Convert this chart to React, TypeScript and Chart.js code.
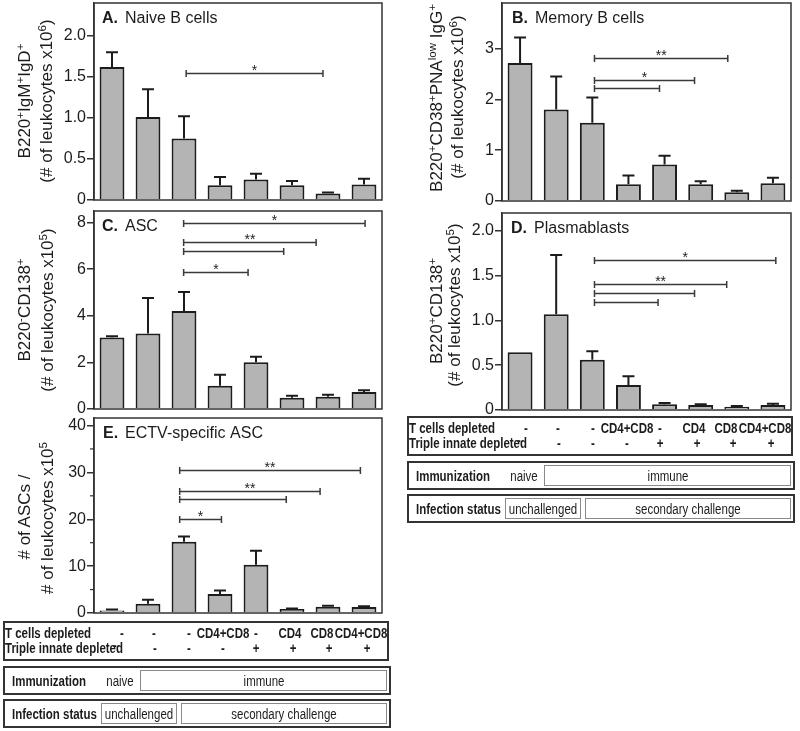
import React, { useEffect, useRef } from 'react';
import { Chart, registerables } from 'chart.js';

Chart.register(...registerables);

// ---------- data ----------
const groups = [
  'naive',
  'immune',
  'immune challenged',
  'CD4+CD8 depleted',
  'triple innate depleted',
  'CD4 + triple',
  'CD8 + triple',
  'CD4+CD8 + triple',
];

const naiveMean = [1.62, 1.01, 0.75, 0.18, 0.25, 0.18, 0.08, 0.19];
const naiveErr = [0.18, 0.34, 0.27, 0.1, 0.07, 0.05, 0.01, 0.07];
const naiveTicks = [0, 0.5, 1, 1.5, 2];

const memoryMean = [2.72, 1.8, 1.54, 0.33, 0.72, 0.33, 0.17, 0.35];
const memoryErr = [0.5, 0.65, 0.5, 0.17, 0.17, 0.06, 0.03, 0.11];
const memoryTicks = [0, 1, 2, 3];

const ascMean = [3.07, 3.24, 4.21, 1.0, 2.01, 0.48, 0.53, 0.73];
const ascErr = [0.05, 1.53, 0.81, 0.47, 0.23, 0.09, 0.08, 0.07];
const ascTicks = [0, 2, 4, 6, 8];

const plasmaMean = [0.646, 1.07, 0.56, 0.278, 0.063, 0.056, 0.037, 0.056];
const plasmaErr = [0, 0.66, 0.097, 0.1, 0.015, 0.007, 0.008, 0.014];
const plasmaTicks = [0, 0.5, 1, 1.5, 2];

const ectvMean = [0.55, 2.0, 15.2, 4.04, 10.3, 0.85, 1.34, 1.28];
const ectvErr = [0.22, 0.83, 1.1, 0.76, 3.0, 0.13, 0.21, 0.17];
const ectvTicks = [0, 10, 20, 30, 40];
const ectvMinorTicks = [5, 15, 25, 35];

type Bracket = { from: number; to: number; y: number; label: string };

const naiveBrackets: Bracket[] = [{ from: 2.06, to: 5.86, y: 1.55, label: '*' }];
const memoryBrackets: Bracket[] = [
  { from: 2.06, to: 5.75, y: 2.82, label: '**' },
  { from: 2.06, to: 4.83, y: 2.39, label: '*' },
  { from: 2.06, to: 3.86, y: 2.22, label: '' },
];
const ascBrackets: Bracket[] = [
  { from: 1.99, to: 7.03, y: 8.0, label: '*' },
  { from: 1.99, to: 5.67, y: 7.17, label: '**' },
  { from: 1.99, to: 4.77, y: 6.77, label: '' },
  { from: 1.99, to: 3.78, y: 5.86, label: '*' },
];
const plasmaBrackets: Bracket[] = [
  { from: 2.06, to: 7.08, y: 1.67, label: '*' },
  { from: 2.06, to: 5.72, y: 1.41, label: '**' },
  { from: 2.06, to: 4.83, y: 1.31, label: '' },
  { from: 2.06, to: 3.82, y: 1.21, label: '' },
];
const ectvBrackets: Bracket[] = [
  { from: 1.88, to: 6.9, y: 30.5, label: '**' },
  { from: 1.88, to: 5.78, y: 26.1, label: '**' },
  { from: 1.88, to: 4.84, y: 24.3, label: '' },
  { from: 1.88, to: 3.04, y: 20.0, label: '*' },
];

const tCellsDepleted = ['-', '-', '-', 'CD4+CD8', '-', 'CD4', 'CD8', 'CD4+CD8'];
const tripleInnateDepleted = ['-', '-', '-', '-', '+', '+', '+', '+'];

// ---------- styles ----------
const FONT = '"Liberation Sans", Arial, Helvetica, sans-serif';
const INK = '#1c1c1c';
const LINE = '#333333';
const BAR = '#b4b4b4';
const NARROW_SCALE = 0.82;

type Area = { l: number; t: number; r: number; b: number };

interface PanelProps {
  left: number;
  top: number;
  width: number;
  height: number;
  area: Area;
  means: number[];
  errs: number[];
  max: number;
  ticks: number[];
  minorTicks?: number[];
  brackets: Bracket[];
  letter: string;
  title: string;
  titleDx: number;
  decimals: number;
}

function Panel(p: PanelProps) {
  const ref = useRef<HTMLCanvasElement | null>(null);
  useEffect(() => {
    if (!ref.current) return;
    const decor = {
      id: 'decor' + p.letter,
      afterDatasetsDraw(chart: any) {
        const { ctx, chartArea: a } = chart;
        const x = chart.scales.x;
        const y = chart.scales.y;
        ctx.save();
        // frame
        ctx.strokeStyle = LINE;
        ctx.lineWidth = 1.5;
        ctx.strokeRect(a.left, a.top, a.right - a.left, a.bottom - a.top);
        // minor ticks
        if (p.minorTicks) {
          ctx.lineWidth = 1.2;
          p.minorTicks.forEach((v) => {
            const py = y.getPixelForValue(v);
            ctx.beginPath();
            ctx.moveTo(a.left - 4, py);
            ctx.lineTo(a.left, py);
            ctx.stroke();
          });
        }
        // error bars
        const meta = chart.getDatasetMeta(0);
        ctx.strokeStyle = INK;
        ctx.lineWidth = 2;
        meta.data.forEach((el: any, i: number) => {
          const e = p.errs[i];
          if (!e) return;
          const top = y.getPixelForValue(p.means[i] + e);
          ctx.beginPath();
          ctx.moveTo(el.x, el.y);
          ctx.lineTo(el.x, top);
          ctx.moveTo(el.x - 6, top);
          ctx.lineTo(el.x + 6, top);
          ctx.stroke();
        });
        // brackets
        ctx.strokeStyle = '#3a3a3a';
        ctx.lineWidth = 1.5;
        ctx.fillStyle = INK;
        ctx.font = `14px ${FONT}`;
        ctx.textAlign = 'center';
        ctx.textBaseline = 'alphabetic';
        p.brackets.forEach((b) => {
          const x1 = x.getPixelForValue(b.from);
          const x2 = x.getPixelForValue(b.to);
          const py = Math.round(y.getPixelForValue(b.y)) + 0.5;
          ctx.beginPath();
          ctx.moveTo(x1, py);
          ctx.lineTo(x2, py);
          ctx.moveTo(x1, py - 3.5);
          ctx.lineTo(x1, py + 3.5);
          ctx.moveTo(x2, py - 3.5);
          ctx.lineTo(x2, py + 3.5);
          ctx.stroke();
          if (b.label) ctx.fillText(b.label, (x1 + x2) / 2, py + 1);
        });
        // title
        ctx.textAlign = 'left';
        ctx.textBaseline = 'middle';
        ctx.font = `bold 16px ${FONT}`;
        const tx = a.left + p.titleDx;
        const ty = a.top + 15.5;
        ctx.fillText(p.letter, tx, ty);
        const w = ctx.measureText(p.letter).width;
        ctx.font = `16px ${FONT}`;
        ctx.fillText(p.title, tx + w + 7, ty);
        ctx.restore();
      },
    };
    const chart = new Chart(ref.current, {
      type: 'bar',
      data: {
        labels: groups,
        datasets: [
          {
            data: p.means,
            backgroundColor: BAR,
            borderColor: INK,
            borderWidth: 2,
            barPercentage: 0.69,
            categoryPercentage: 1,
          },
        ],
      },
      options: {
        animation: false,
        responsive: false,
        devicePixelRatio: 1,
        layout: {
          padding: {
            left: 0,
            top: p.area.t,
            right: p.width - p.area.r,
            bottom: p.height - p.area.b,
          },
        },
        plugins: { legend: { display: false }, tooltip: { enabled: false } },
        scales: {
          x: { display: false, offset: true },
          y: {
            min: 0,
            max: p.max,
            afterFit: (s: any) => {
              s.width = p.area.l;
              s.paddingTop = 0;
              s.paddingBottom = 0;
            },
            afterBuildTicks: (s: any) => {
              s.ticks = p.ticks.map((v) => ({ value: v }));
            },
            ticks: {
              font: { family: FONT, size: 16 },
              color: INK,
              padding: 1,
              callback: (v: any) => (Number(v) === 0 ? '0' : Number(v).toFixed(p.decimals)),
            },
            grid: { drawOnChartArea: false, tickLength: 7, color: LINE, lineWidth: 1.5 },
            border: { display: true, color: LINE, width: 1.5 },
          },
        },
      },
      plugins: [decor],
    } as any);
    return () => chart.destroy();
  }, []);
  return (
    <canvas
      ref={ref}
      width={p.width}
      height={p.height}
      style={{ position: 'absolute', left: p.left, top: p.top, width: p.width, height: p.height }}
    />
  );
}

const Sup = ({ children }: { children: React.ReactNode }) => (
  <span style={{ fontSize: '0.68em', position: 'relative', top: '-0.5em' }}>{children}</span>
);

function YLabel({ x, y, children }: { x: number; y: number; children: React.ReactNode }) {
  return (
    <div
      style={{
        position: 'absolute',
        left: x,
        top: y,
        transform: 'translate(-50%, -50%) rotate(-90deg)',
        whiteSpace: 'nowrap',
        font: `17px ${FONT}`,
        lineHeight: '20px',
        color: INK,
      }}
    >
      {children}
    </div>
  );
}

// narrow text (condensed look, Liberation Sans scaled horizontally)
function NText({
  x,
  y,
  bold,
  center,
  children,
}: {
  x: number;
  y: number;
  bold?: boolean;
  center?: boolean;
  children: React.ReactNode;
}) {
  return (
    <span
      style={{
        position: 'absolute',
        left: x,
        top: y,
        font: `${bold ? 'bold ' : ''}14px ${FONT}`,
        lineHeight: '16px',
        color: INK,
        whiteSpace: 'nowrap',
        transform: center
          ? `translate(-50%, -50%) scaleX(${NARROW_SCALE})`
          : `translateY(-50%) scaleX(${NARROW_SCALE})`,
        transformOrigin: center ? '50% 50%' : '0 50%',
      }}
    >
      {children}
    </span>
  );
}

const row1X = [119, 151, 186, 220, 253, 287, 319, 358];
const row2X = [112, 152, 186, 220, 253, 290, 326, 364];

function TCellTable({ left, top, width }: { left: number; top: number; width: number }) {
  return (
    <div
      style={{
        position: 'absolute',
        left,
        top,
        width,
        height: 40,
        border: `2px solid ${LINE}`,
        boxSizing: 'border-box',
      }}
    >
      <NText x={0} y={10} bold>
        T cells depleted
      </NText>
      <NText x={0} y={25} bold>
        Triple innate depleted
      </NText>
      {tCellsDepleted.map((s, i) => (
        <NText key={'a' + i} x={row1X[i] - 2} y={10} bold center>
          {s}
        </NText>
      ))}
      {tripleInnateDepleted.map((s, i) => (
        <NText key={'b' + i} x={row2X[i] - 2} y={i === 0 ? 22 : 25} bold center>
          {s}
        </NText>
      ))}
    </div>
  );
}

function StatusTable({
  left,
  top,
  width,
  height,
  label,
  cells,
}: {
  left: number;
  top: number;
  width: number;
  height: number;
  label: string;
  cells: { text: string; x: number; w: number; boxed: boolean }[];
}) {
  const inner = height - 4;
  return (
    <div
      style={{
        position: 'absolute',
        left,
        top,
        width,
        height,
        border: `2px solid ${LINE}`,
        boxSizing: 'border-box',
      }}
    >
      <NText x={7} y={inner / 2} bold>
        {label}
      </NText>
      {cells.map((c, i) => (
        <div
          key={i}
          style={{
            position: 'absolute',
            left: c.x - 2,
            top: 2,
            width: c.w,
            height: inner - 4,
            border: c.boxed ? '1px solid #8a8a8a' : '1px solid transparent',
            boxSizing: 'border-box',
          }}
        >
          <NText x={c.w / 2 - 1} y={(inner - 4) / 2 - 1} center>
            {c.text}
          </NText>
        </div>
      ))}
    </div>
  );
}

function Tables({ left, top }: { left: number; top: number }) {
  return (
    <>
      <TCellTable left={left} top={top} width={386} />
      <StatusTable
        left={left}
        top={top + 45}
        width={388}
        height={29}
        label="Immunization"
        cells={[
          { text: 'naive', x: 98, w: 38, boxed: false },
          { text: 'immune', x: 137, w: 247, boxed: true },
        ]}
      />
      <StatusTable
        left={left}
        top={top + 78}
        width={388}
        height={29}
        label="Infection status"
        cells={[
          { text: 'unchallenged', x: 98, w: 76, boxed: true },
          { text: 'secondary challenge', x: 178, w: 206, boxed: true },
        ]}
      />
    </>
  );
}

export default function App() {
  return (
    <div style={{ position: 'absolute', left: 0, top: 0, width: 800, height: 731, background: '#fff' }}>
      <Panel
        left={0}
        top={0}
        width={392}
        height={214}
        area={{ l: 94, t: 3, r: 382, b: 200 }}
        means={naiveMean}
        errs={naiveErr}
        max={2.4}
        ticks={naiveTicks}
        brackets={naiveBrackets}
        letter="A."
        title="Naive B cells"
        titleDx={8}
        decimals={1}
      />
      <Panel
        left={400}
        top={0}
        width={400}
        height={214}
        area={{ l: 102, t: 3, r: 391, b: 201 }}
        means={memoryMean}
        errs={memoryErr}
        max={3.9}
        ticks={memoryTicks}
        brackets={memoryBrackets}
        letter="B."
        title="Memory B cells"
        titleDx={10}
        decimals={0}
      />
      <Panel
        left={0}
        top={200}
        width={392}
        height={222}
        area={{ l: 94, t: 11, r: 382, b: 209 }}
        means={ascMean}
        errs={ascErr}
        max={8.5}
        ticks={ascTicks}
        brackets={ascBrackets}
        letter="C."
        title="ASC"
        titleDx={8}
        decimals={0}
      />
      <Panel
        left={400}
        top={200}
        width={400}
        height={222}
        area={{ l: 102, t: 13, r: 391, b: 210 }}
        means={plasmaMean}
        errs={plasmaErr}
        max={2.2}
        ticks={plasmaTicks}
        brackets={plasmaBrackets}
        letter="D."
        title="Plasmablasts"
        titleDx={9}
        decimals={1}
      />
      <Panel
        left={0}
        top={405}
        width={392}
        height={220}
        area={{ l: 94, t: 13, r: 382, b: 208 }}
        means={ectvMean}
        errs={ectvErr}
        max={41.6}
        ticks={ectvTicks}
        minorTicks={ectvMinorTicks}
        brackets={ectvBrackets}
        letter="E."
        title="ECTV-specific ASC"
        titleDx={9}
        decimals={0}
      />

      <YLabel x={25} y={101}>
        B220<Sup>+</Sup>IgM<Sup>+</Sup>IgD<Sup>+</Sup>
      </YLabel>
      <YLabel x={47} y={101}>
        (# of leukocytes x10<Sup>6</Sup>)
      </YLabel>
      <YLabel x={437} y={98}>
        B220<Sup>+</Sup>CD38<Sup>+</Sup>PNA<Sup>low</Sup> IgG<Sup>+</Sup>
      </YLabel>
      <YLabel x={458} y={97}>
        (# of leukocytes x10<Sup>6</Sup>)
      </YLabel>
      <YLabel x={25} y={310}>
        B220<Sup>-</Sup>CD138<Sup>+</Sup>
      </YLabel>
      <YLabel x={48} y={310}>
        (# of leukocytes x10<Sup>5</Sup>)
      </YLabel>
      <YLabel x={437} y={311}>
        B220<Sup>+</Sup>CD138<Sup>+</Sup>
      </YLabel>
      <YLabel x={455} y={305}>
        (# of leukocytes x10<Sup>5</Sup>)
      </YLabel>
      <YLabel x={25} y={517}>
        # of ASCs /
      </YLabel>
      <YLabel x={48} y={518}>
        # of leukocytes x10<Sup>5</Sup>
      </YLabel>

      <Tables left={3} top={621} />
      <Tables left={407} top={416} />
    </div>
  );
}
